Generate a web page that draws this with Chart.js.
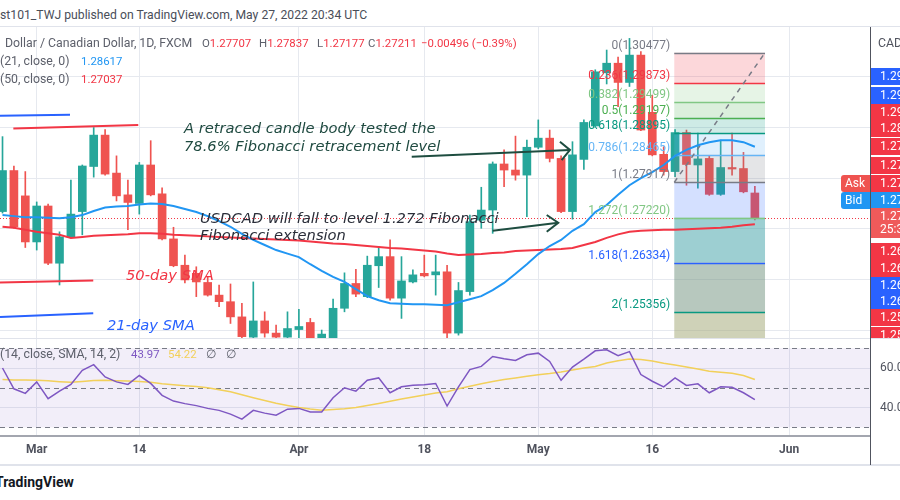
<!DOCTYPE html>
<html>
<head>
<meta charset="utf-8">
<script src="https://cdn.jsdelivr.net/npm/chart.js@4.4.1/dist/chart.umd.min.js"></script>
<style>
html,body{margin:0;padding:0;background:#fff;}
#wrap{position:relative;width:900px;height:500px;overflow:hidden;font-family:Roboto,"Noto Sans",Arial,sans-serif;}
.t{position:absolute;white-space:nowrap;}
.hl{position:absolute;left:0;width:900px;background:#e0e3eb;}
#pbox{position:absolute;left:0;top:27px;width:900px;height:311px;}
#rbox{position:absolute;left:0;top:339px;width:900px;height:125px;}
.ann{position:absolute;white-space:nowrap;font-family:"DejaVu Sans",sans-serif;font-style:italic;font-size:14.7px;line-height:18px;}
.lg{position:absolute;white-space:nowrap;font-size:12.3px;line-height:16px;color:#5d606b;}
.v{font-size:11.4px;}
.red{color:#f23645;}
</style>
</head>
<body>
<div id="wrap">
  <div class="t" style="left:0;top:7px;font-size:12.2px;line-height:16px;color:#4a4e59">st101_TWJ published on TradingView.com, May 27, 2022 20:34 UTC</div>
  <div class="hl" style="top:26px;height:1px"></div>
  <div id="pbox"><canvas id="pc"></canvas></div>
  <div class="hl" style="top:338px;height:1px"></div>
  <div id="rbox"><canvas id="rc"></canvas></div>
  <div class="hl" style="top:464px;height:2px"></div>
  <div style="position:absolute;left:870px;top:27px;width:1px;height:438px;background:#50535e"></div>

  <!-- legend -->
  <div class="lg" style="left:5px;top:35px">Dollar / Canadian Dollar, 1D, FXCM</div>
  <div class="lg v" style="left:202px;top:35px">O<span class="red">1.27707</span></div>
  <div class="lg v" style="left:259px;top:35px">H<span class="red">1.27837</span></div>
  <div class="lg v" style="left:317px;top:35px">L<span class="red">1.27177</span></div>
  <div class="lg v" style="left:368px;top:35px">C<span class="red">1.27211</span></div>
  <div class="lg v red" style="left:421px;top:35px">−0.00496 (−0.39%)</div>
  <div class="lg" style="left:0;top:53px">(21, close, 0)</div>
  <div class="lg v" style="left:81px;top:53px;color:#2196f3">1.28617</div>
  <div class="lg" style="left:0;top:71px">(50, close, 0)</div>
  <div class="lg v red" style="left:81px;top:71px">1.27037</div>
  <div class="lg" style="left:878px;top:35px;color:#50535e">CAD</div>

  <div class="lg" style="left:0;top:346px">(14, close, SMA, 14, 2)</div>
  <div class="lg v" style="left:131px;top:346px;color:#7e57c2">43.97</div>
  <div class="lg v" style="left:168px;top:346px;color:#f2d05a">54.22</div>
  <div class="lg" style="left:206px;top:346px">∅</div>
  <div class="lg" style="left:226px;top:346px">∅</div>

  <!-- annotations -->
  <div class="ann" style="left:184px;top:119px;color:#1f4a40">A retraced candle body tested the<br>78.6% Fibonacci retracement level</div>
  <div class="ann" style="left:200px;top:209px;line-height:17px;color:#2a2e39">USDCAD will fall to level 1.272 Fibonacci<br>Fibonacci extension</div>
  <div class="ann" style="left:126px;top:266px;color:#f23645">50-day SMA</div>
  <div class="ann" style="left:107px;top:316px;color:#2962ff">21-day SMA</div>

  <div class="t" style="left:-5px;top:473px;font-size:14px;line-height:18px;font-weight:bold;color:#131722">TradingView</div>
</div>

<script>
// ---------- data ----------
const opens = [
  1.2734, 1.2815, 1.2765, 1.2674, 1.2745, 1.2632, 1.2684, 1.2734, 1.2823, 1.2885,
  1.2810, 1.2767, 1.2750, 1.2826, 1.2769, 1.2680, 1.2628, 1.2612, 1.2594, 1.2569,
  1.2556, 1.2526, 1.2486, 1.2518, 1.2494, 1.2486, 1.2501, 1.2515, 1.2484, 1.2484,
  1.2543, 1.2592, 1.2566, 1.2627, 1.2645, 1.2563, 1.2595, 1.2612, 1.2609, 1.2615,
  1.2494, 1.2576, 1.2717, 1.2737, 1.2828, 1.2816, 1.2806, 1.2861, 1.2879, 1.2839,
  1.2734, 1.2837, 1.2903, 1.3008, 1.3027, 1.2989, 1.3043, 1.2930, 1.2847, 1.2813,
  1.2890, 1.2826, 1.2839, 1.2768, 1.2821, 1.2819, 1.27707];
const highs = [
  1.2882, 1.2824, 1.2813, 1.2753, 1.2749, 1.2694, 1.2796, 1.2826, 1.2900, 1.2896,
  1.2844, 1.2796, 1.2831, 1.2874, 1.2781, 1.2703, 1.2648, 1.2625, 1.2605, 1.2589,
  1.2591, 1.2553, 1.2595, 1.2536, 1.2510, 1.2536, 1.2541, 1.2523, 1.2500, 1.2561,
  1.2613, 1.2620, 1.2646, 1.2665, 1.2678, 1.2645, 1.2619, 1.2648, 1.2648, 1.2628,
  1.2594, 1.2727, 1.2782, 1.2832, 1.2856, 1.2883, 1.2875, 1.2915, 1.2895, 1.2844,
  1.2872, 1.2915, 1.3014, 1.3053, 1.3039, 1.3076, 1.3050, 1.2964, 1.2862, 1.2896,
  1.2895, 1.2889, 1.2844, 1.2875, 1.2889, 1.2851, 1.27837];
const lows = [
  1.2731, 1.2701, 1.2663, 1.2658, 1.2629, 1.2589, 1.2683, 1.2688, 1.2802, 1.2806,
  1.2755, 1.2698, 1.2729, 1.2765, 1.2678, 1.2625, 1.2593, 1.2566, 1.2567, 1.2546,
  1.2513, 1.2478, 1.2484, 1.2486, 1.2484, 1.2482, 1.2484, 1.2478, 1.2478, 1.2482,
  1.2536, 1.2566, 1.2564, 1.2584, 1.2559, 1.2523, 1.2593, 1.2605, 1.2569, 1.2484,
  1.2490, 1.2569, 1.2701, 1.2691, 1.2783, 1.2796, 1.2724, 1.2858, 1.2832, 1.2732,
  1.2719, 1.2817, 1.2900, 1.2986, 1.2941, 1.2981, 1.2894, 1.2844, 1.2806, 1.2803,
  1.2786, 1.2780, 1.2766, 1.2766, 1.2806, 1.2771, 1.27177];
const closes = [
  1.2815, 1.2704, 1.2674, 1.2745, 1.2632, 1.2684, 1.2729, 1.2824, 1.2885, 1.2808,
  1.2765, 1.2752, 1.2826, 1.2767, 1.2680, 1.2627, 1.2599, 1.2595, 1.2569, 1.2556,
  1.2526, 1.2487, 1.2518, 1.2494, 1.2486, 1.2503, 1.2507, 1.2484, 1.2492, 1.2543,
  1.2592, 1.2571, 1.2628, 1.2645, 1.2563, 1.2597, 1.2609, 1.2607, 1.2615, 1.2494,
  1.2578, 1.2714, 1.2737, 1.2828, 1.2816, 1.2806, 1.2861, 1.2879, 1.2839, 1.2734,
  1.2846, 1.2910, 1.3010, 1.3027, 1.2989, 1.3043, 1.2895, 1.2846, 1.2813, 1.2890,
  1.2827, 1.2838, 1.2768, 1.2821, 1.2818, 1.2773, 1.27211];
const sma21 = [
  1.2727, 1.2725, 1.2723, 1.2723, 1.2722, 1.2721, 1.2723, 1.2727, 1.2735, 1.2742,
  1.2744, 1.2745, 1.2748, 1.2750, 1.2749, 1.2745, 1.2739, 1.2733, 1.2725, 1.2715,
  1.2704, 1.2690, 1.2678, 1.2668, 1.2658, 1.2651, 1.2644, 1.2630, 1.2617, 1.2605,
  1.2595, 1.2581, 1.2567, 1.2559, 1.2553, 1.2552, 1.2551, 1.2551, 1.2550, 1.2549,
  1.2555, 1.2561, 1.2567, 1.2579, 1.2593, 1.2611, 1.2630, 1.2650, 1.2666, 1.2678,
  1.2696, 1.2709, 1.2733, 1.2747, 1.2767, 1.2786, 1.2800, 1.2812, 1.2826, 1.2844,
  1.2856, 1.2865, 1.2871, 1.2875, 1.2875, 1.2871, 1.2862];
const sma50 = [
  1.2704, 1.2702, 1.2698, 1.2694, 1.2691, 1.2688, 1.2682, 1.2684, 1.2686, 1.2687,
  1.2688, 1.2689, 1.2691, 1.2691, 1.2690, 1.2688, 1.2687, 1.2686, 1.2685, 1.2684,
  1.2683, 1.2682, 1.2681, 1.2680, 1.2679, 1.2678, 1.2677, 1.2675, 1.2673, 1.2671,
  1.2670, 1.2668, 1.2666, 1.2664, 1.2662, 1.2661, 1.2659, 1.2657, 1.2655, 1.2651,
  1.2648, 1.2649, 1.2650, 1.2652, 1.2653, 1.2656, 1.2657, 1.2658, 1.2659, 1.2660,
  1.2662, 1.2668, 1.2674, 1.2682, 1.2689, 1.2694, 1.2696, 1.2697, 1.2698, 1.2698,
  1.2699, 1.2700, 1.2701, 1.2702, 1.2704, 1.2707, 1.2709];
const rsi = [
  60.0, 49.5, 47.2, 53.0, 44.5, 48.3, 51.7, 58.8, 61.7, 55.5,
  53.0, 51.7, 56.2, 52.2, 46.2, 43.3, 42.0, 41.0, 39.6, 38.6,
  36.7, 34.2, 38.6, 37.2, 36.2, 39.2, 39.6, 37.8, 37.8, 45.0,
  50.0, 48.3, 53.8, 55.0, 47.5, 50.5, 51.3, 51.5, 52.2, 40.8,
  50.5, 59.2, 60.8, 65.8, 64.7, 63.8, 66.7, 67.5, 63.3, 53.8,
  60.5, 64.5, 68.7, 69.2, 66.2, 68.3, 56.7, 53.3, 50.5, 55.0,
  51.2, 52.0, 47.5, 50.5, 50.3, 47.5, 43.97];
const rsiMa = [
  54.2, 54.0, 53.9, 53.8, 53.5, 53.1, 52.8, 53.2, 53.7, 53.8,
  53.6, 53.4, 53.2, 52.8, 52.0, 51.5, 51.0, 50.6, 50.0, 49.0,
  48.0, 46.5, 45.0, 43.6, 42.2, 41.1, 40.1, 39.3, 38.7, 39.0,
  39.4, 40.0, 41.0, 42.1, 43.2, 44.3, 45.4, 46.4, 47.4, 48.0,
  49.5, 50.8, 52.0, 53.2, 54.2, 55.0, 55.8, 56.6, 57.2, 58.0,
  59.0, 60.0, 60.8, 62.5, 63.7, 64.5, 64.3, 63.5, 62.4, 61.5,
  60.5, 59.5, 58.4, 57.9, 57.4, 56.2, 54.22];

// bar position: first visible bar (24 Feb) is 3 bars before 1 Mar
const barIndex = opens.map((_, i) => i - 3);

const xTickIdx = [0, 9, 23, 34, 44, 54, 66];
const xTickLabels = ['Mar', '14', 'Apr', '18', 'May', '16', 'Jun'];
const xRange = [-3.22, 73.10];
const priceRange = [1.24843, 1.30985];
const priceGrid = [1.25, 1.26, 1.27, 1.28, 1.29, 1.30];
const rsiRange = [25.65, 74.65];
const rsiGrid = [60, 40];
const rsiBands = [70, 50, 30];
const lastClose = 1.27211;

const fibRatios = ['0', '0.236', '0.382', '0.5', '0.618', '0.786', '1', '1.272', '1.618', '2'];
const fibPrices = [1.30477, 1.29873, 1.29499, 1.29197, 1.28895, 1.28465, 1.27917, 1.27220, 1.26334, 1.25356];
const fibLineColors = ['#787b86', '#f23645', '#81c784', '#4caf50', '#089981', '#64b5f6', '#787b86', '#81c784', '#2962ff', '#089981'];
const fibFillColors = ['rgba(242,54,69,0.2)', 'rgba(129,199,132,0.2)', 'rgba(76,175,80,0.2)', 'rgba(8,153,129,0.2)',
  'rgba(100,181,246,0.2)', 'rgba(120,123,134,0.2)', 'rgba(41,98,255,0.2)', 'rgba(59,159,165,0.5)',
  'rgba(111,145,125,0.5)', 'rgba(159,165,113,0.5)'];
const fibRange = [55.93, 63.89];

const badgePos = [1.30003, 1.29642, 1.29292, 1.28976, 1.28621, 1.28259, 1.27904, 1.27568, 1.27238, 1.26976,
  1.26547, 1.26225, 1.25889, 1.25559, 1.25238, 1.24902];
const badgeText = ['1.2987', '1.2950', '1.2920', '1.2890', '1.2792', '1.2771', '1.2723', '1.2721', '1.2721', '25:36',
  '1.2684', '1.2653', '1.2633', '1.2608', '1.2567', '1.2536'];
const badgeColor = ['#2962ff', '#2962ff', '#f23645', '#f23645', '#f23645', '#f23645', '#f23645', '#2196f3', '#ef5a5a', '#ef5a5a',
  '#f23645', '#f23645', '#2962ff', '#2962ff', '#f23645', '#f23645'];
const tagText = ['Ask', 'Bid'];
const tagPos = [1.27904, 1.27568];
const tagColor = ['#ef5350', '#2196f3'];

const arrow1Line = [{x: 32.9, y: 1.28423}, {x: 46.78, y: 1.28556}];
const arrow1Head = [{x: 45.90, y: 1.28719}, {x: 46.78, y: 1.28556}, {x: 46.05, y: 1.28358}];
const arrow2Line = [{x: 40.0, y: 1.26962}, {x: 45.75, y: 1.27120}];
const arrow2Head = [{x: 44.74, y: 1.27272}, {x: 45.75, y: 1.27120}, {x: 44.74, y: 1.26942}];
const blueTop = [{x: -3.22, y: 1.2923}, {x: 2.92, y: 1.2925}];
const redTop = [{x: -2.05, y: 1.2898}, {x: 8.91, y: 1.2905}];
const redBottom = [{x: -3.22, y: 1.2594}, {x: 4.96, y: 1.2598}];
const blueBottom = [{x: -3.22, y: 1.2526}, {x: 4.96, y: 1.2533}];

// ---------- chart ----------
Chart.defaults.font.family = 'Roboto, "Noto Sans", sans-serif';
Chart.defaults.animation = false;
const UP = '#26a69a', DN = '#ef5350', GRID = '#e6e9ef', ARROW = '#1e4d40';
const isUp = i => closes[i] >= opens[i];
const pts = (xs, ys) => xs.map((x, i) => ({x, y: ys[i]}));
const ln = (data, color, order, w) => ({type: 'line', data, borderColor: color, borderWidth: w || 2,
  pointRadius: 0, fill: false, tension: 0, order});
const noPad = s => { s.paddingTop = 0; s.paddingBottom = 0; s.paddingLeft = 0; s.paddingRight = 0; };

const xScaleBase = {
  type: 'linear', min: xRange[0], max: xRange[1], offset: false,
  grid: {color: GRID, drawTicks: false, offset: false},
  afterBuildTicks: s => { s.ticks = xTickIdx.map(v => ({value: v})); }
};

const datasets = [
  ln(arrow1Line, ARROW, 1), ln(arrow1Head, ARROW, 1), ln(arrow2Line, ARROW, 1), ln(arrow2Head, ARROW, 1),
  ln(blueTop, '#2962ff', 2), ln(redTop, '#f23645', 2), ln(redBottom, '#f23645', 2), ln(blueBottom, '#2962ff', 2),
  ln(pts(barIndex, sma21), '#2196f3', 3),
  ln(pts(barIndex, sma50), '#f23645', 4),
  {label: 'bodies', data: barIndex.map((x, i) => ({x, y: [opens[i], closes[i]]})),
   backgroundColor: c => isUp(c.dataIndex) ? UP : DN, barThickness: 8, minBarLength: 1, grouped: false, order: 5},
  {label: 'wicks', data: barIndex.map((x, i) => ({x, y: [lows[i], highs[i]]})),
   backgroundColor: c => isUp(c.dataIndex) ? UP : DN, barThickness: 1, grouped: false, order: 6}
];
const BODY_DS = datasets.findIndex(d => d.label === 'bodies');

const pricePaint = {
  id: 'pricePaint',
  beforeDatasetsDraw(chart) {
    const {ctx, chartArea: a, scales: {y}} = chart;
    const yy = Math.round(y.getPixelForValue(lastClose)) + 0.5;
    ctx.save();
    ctx.strokeStyle = '#f23645'; ctx.lineWidth = 1; ctx.setLineDash([1, 2]);
    ctx.beginPath(); ctx.moveTo(a.left, yy); ctx.lineTo(a.right, yy); ctx.stroke();
    ctx.restore();
  },
  afterDatasetDraw(chart, args) {
    if (args.index !== BODY_DS) return;
    const {ctx, chartArea: a, scales: {x, y}} = chart;
    const x0 = x.getPixelForValue(fibRange[0]), x1 = x.getPixelForValue(fibRange[1]);
    ctx.save();
    ctx.beginPath(); ctx.rect(a.left, a.top, a.right - a.left, a.bottom - a.top); ctx.clip();
    for (let i = 0; i < fibPrices.length; i++) {
      const yt = y.getPixelForValue(fibPrices[i]);
      const yb = i + 1 < fibPrices.length ? y.getPixelForValue(fibPrices[i + 1]) : a.bottom;
      ctx.fillStyle = fibFillColors[i];
      ctx.fillRect(x0, yt, x1 - x0, yb - yt);
    }
    for (let i = 0; i < fibPrices.length; i++) {
      const yy = Math.round(y.getPixelForValue(fibPrices[i])) + 0.5;
      ctx.strokeStyle = fibLineColors[i]; ctx.lineWidth = 1.5;
      ctx.beginPath(); ctx.moveTo(x0, yy); ctx.lineTo(x1, yy); ctx.stroke();
    }
    ctx.strokeStyle = '#787b86'; ctx.lineWidth = 1.5; ctx.setLineDash([5, 5]);
    ctx.beginPath();
    ctx.moveTo(x0, y.getPixelForValue(fibPrices[6]));
    ctx.lineTo(x1, y.getPixelForValue(fibPrices[0]));
    ctx.stroke();
    ctx.restore();
  },
  afterDatasetsDraw(chart) {
    const {ctx, chartArea: a, scales: {x, y}} = chart;
    const x0 = x.getPixelForValue(fibRange[0]);
    ctx.save();
    ctx.font = '12px Roboto, "Noto Sans", sans-serif';
    ctx.textAlign = 'right'; ctx.textBaseline = 'bottom';
    for (let i = 0; i < fibPrices.length; i++) {
      ctx.fillStyle = fibLineColors[i];
      ctx.fillText(fibRatios[i] + '(' + fibPrices[i].toFixed(5) + ')', x0 - 4, y.getPixelForValue(fibPrices[i]) - 1);
    }
    // price-scale badges
    ctx.textAlign = 'left'; ctx.textBaseline = 'middle';
    for (let i = 0; i < badgePos.length; i++) {
      const yc = y.getPixelForValue(badgePos[i]);
      ctx.fillStyle = badgeColor[i];
      ctx.fillRect(a.right + 1, Math.round(yc - 8.5), 30, 17);
      ctx.fillStyle = '#ffffff';
      ctx.fillText(badgeText[i], a.right + 10, yc + 0.5);
    }
    for (let i = 0; i < tagPos.length; i++) {
      const yc = y.getPixelForValue(tagPos[i]);
      ctx.fillStyle = tagColor[i];
      ctx.beginPath();
      ctx.roundRect(a.right - 29, Math.round(yc - 8.5), 30, 17, [3, 0, 0, 3]);
      ctx.fill();
      ctx.fillStyle = '#ffffff';
      ctx.fillText(tagText[i], a.right - 25, yc + 0.5);
    }
    ctx.restore();
  }
};

new Chart(document.getElementById('pc'), {
  type: 'bar',
  data: {datasets},
  options: {
    responsive: true, maintainAspectRatio: false, animation: false,
    layout: {padding: 0},
    plugins: {legend: {display: false}, tooltip: {enabled: false}},
    scales: {
      x: Object.assign({}, xScaleBase, {
        ticks: {display: false}, border: {display: false},
        afterFit: s => { s.height = 0; noPad(s); }
      }),
      y: {
        type: 'linear', position: 'right', min: priceRange[0], max: priceRange[1],
        grid: {color: GRID, drawTicks: false}, border: {display: false},
        ticks: {display: false, includeBounds: false},
        afterBuildTicks: s => { s.ticks = priceGrid.map(v => ({value: v})); },
        afterFit: s => { s.width = 30; noPad(s); }
      }
    }
  },
  plugins: [pricePaint]
});

const rsiPaint = {
  id: 'rsiPaint',
  beforeDatasetsDraw(chart) {
    const {ctx, chartArea: a, scales: {y}} = chart;
    const yt = y.getPixelForValue(rsiBands[0]), yb = y.getPixelForValue(rsiBands[2]);
    ctx.save();
    ctx.fillStyle = 'rgba(126,87,194,0.1)';
    ctx.fillRect(a.left, yt, a.right - a.left, yb - yt);
    ctx.strokeStyle = '#787b86'; ctx.lineWidth = 1; ctx.setLineDash([5, 4]);
    rsiBands.forEach(v => {
      const yy = Math.round(y.getPixelForValue(v)) + 0.5;
      ctx.beginPath(); ctx.moveTo(a.left, yy); ctx.lineTo(a.right, yy); ctx.stroke();
    });
    ctx.restore();
  }
};

new Chart(document.getElementById('rc'), {
  type: 'line',
  data: {datasets: [
    ln(pts(barIndex, rsi), '#7e57c2', 1, 1.5),
    ln(pts(barIndex, rsiMa), '#f2d05a', 2, 1.5)
  ]},
  options: {
    responsive: true, maintainAspectRatio: false, animation: false,
    layout: {padding: 0},
    plugins: {legend: {display: false}, tooltip: {enabled: false}},
    scales: {
      x: Object.assign({}, xScaleBase, {
        border: {display: true, color: '#a3a6af', width: 2},
        ticks: {display: true, autoSkip: false, maxRotation: 0, padding: 7, color: '#50535e',
          font: {size: 12, weight: 'bold'}, callback: (v, i) => xTickLabels[i]},
        afterFit: s => { s.height = 28; noPad(s); }
      }),
      y: {
        type: 'linear', position: 'right', min: rsiRange[0], max: rsiRange[1],
        grid: {color: GRID, drawTicks: false}, border: {display: false},
        ticks: {display: true, includeBounds: false, padding: 10, color: '#50535e', font: {size: 12},
          callback: v => Number(v).toFixed(1)},
        afterBuildTicks: s => { s.ticks = rsiGrid.map(v => ({value: v})); },
        afterFit: s => { s.width = 30; noPad(s); }
      }
    }
  },
  plugins: [rsiPaint]
});
</script>
</body>
</html>
